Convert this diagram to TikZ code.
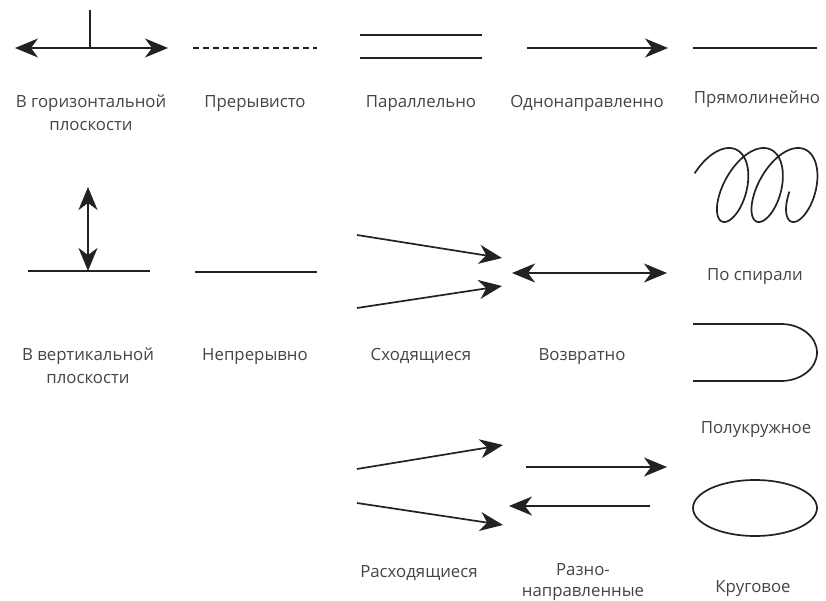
\documentclass[tikz,border=0pt]{standalone}
\usepackage{fontspec}
\setmainfont{Open Sans}
\usetikzlibrary{arrows.meta,shapes.geometric}
\definecolor{ink}{HTML}{222222}
\definecolor{txt}{HTML}{444444}
\tikzset{
  ln/.style={draw=ink, line width=1.7pt},
  headA/.tip={Stealth[length=23pt,width=19pt,inset=7pt]},
  arrR/.style={ln, -headA},
  arrB/.style={ln, headA-headA},
  lbl/.style={text=txt, font=\fontsize{16.8pt}{23pt}\selectfont, align=center, inner sep=0pt, anchor=base},
}
\begin{document}
\begin{tikzpicture}[x=1pt,y=-1pt]
\useasboundingbox (0,0) rectangle (826,601);
% ---------- row 1 ----------
\coordinate (h1) at (15,48); \coordinate (h2) at (168,48);
\coordinate (t1) at (90,10); \coordinate (t2) at (90,48);
\draw[arrB] (h1) -- (h2);
\draw[ln] (t1) -- (t2);
\node[lbl] (lh) at (91,131) {В горизонтальной\\плоскости};

\coordinate (d1) at (193,48); \coordinate (d2) at (317,48);
\draw[ln, dash pattern=on 6pt off 4pt] (d1) -- (d2);
\node[lbl] (ld) at (255,108) {Прерывисто};

\coordinate (p1) at (360,35); \coordinate (p2) at (482,35);
\coordinate (p3) at (360,58); \coordinate (p4) at (482,58);
\draw[ln] (p1) -- (p2);
\draw[ln] (p3) -- (p4);
\node[lbl] (lp) at (421,108) {Параллельно};

\coordinate (o1) at (527,48); \coordinate (o2) at (668,48);
\draw[arrR] (o1) -- (o2);
\node[lbl] (lo) at (587,108) {Однонаправленно};

\coordinate (s1) at (693,48); \coordinate (s2) at (817,48);
\draw[ln] (s1) -- (s2);
\node[lbl] (ls) at (757,104) {Прямолинейно};

% ---------- row 2 ----------
\coordinate (v1) at (28,271); \coordinate (v2) at (150,271);
\coordinate (v3) at (88,187); \coordinate (v4) at (88,271);
\draw[ln] (v1) -- (v2);
\draw[arrB] (v4) -- (v3);
\node[lbl] (lv) at (88,383) {В вертикальной\\плоскости};

\coordinate (n1) at (195,272); \coordinate (n2) at (317,272);
\draw[ln] (n1) -- (n2);
\node[lbl] (ln2) at (255,360) {Непрерывно};

\coordinate (c1) at (357,235); \coordinate (c2) at (502,258);
\coordinate (c3) at (357,308); \coordinate (c4) at (502,286);
\draw[arrR] (c1) -- (c2);
\draw[arrR] (c3) -- (c4);
\node[lbl] (lc) at (421,360) {Сходящиеся};

\coordinate (r1) at (512,273); \coordinate (r2) at (667,273);
\draw[arrB] (r1) -- (r2);
\node[lbl] (lr) at (582,360) {Возвратно};

\draw[ln] plot[smooth, samples=300, domain=-1.25:17.1]
  ({718+5.5*\x+21*sin(\x r)+11*cos(\x r)}, {185-37*cos(\x r)});
\node[lbl] (lsp) at (755,280) {По спирали};

\coordinate (u1) at (693,324); \coordinate (u2) at (781,324);
\coordinate (u4) at (693,381);
\draw[ln] (u1) -- (u2) arc[start angle=90, end angle=-90, x radius=36pt, y radius=28.5pt] -- (u4);
\node[lbl] (lu) at (756,433) {Полукружное};

% ---------- row 3 ----------
\coordinate (e1) at (357,469); \coordinate (e2) at (503,445);
\coordinate (e3) at (357,503); \coordinate (e4) at (503,525);
\draw[arrR] (e1) -- (e2);
\draw[arrR] (e3) -- (e4);
\node[lbl] (le) at (419,577) {Расходящиеся};

\coordinate (a1) at (526,467); \coordinate (a2) at (667,467);
\coordinate (a3) at (650,506); \coordinate (a4) at (509,506);
\draw[arrR] (a1) -- (a2);
\draw[arrR] (a3) -- (a4);
\node[lbl, font=\fontsize{16.8pt}{21pt}\selectfont] (la) at (583,596) {Разно-\\направленные};

\node[ellipse, draw=ink, line width=1.7pt, minimum width=124pt, minimum height=56pt, inner sep=0pt] (el) at (755,508) {};
\node[lbl] (lel) at (753,592) {Круговое};
\end{tikzpicture}
\end{document}
